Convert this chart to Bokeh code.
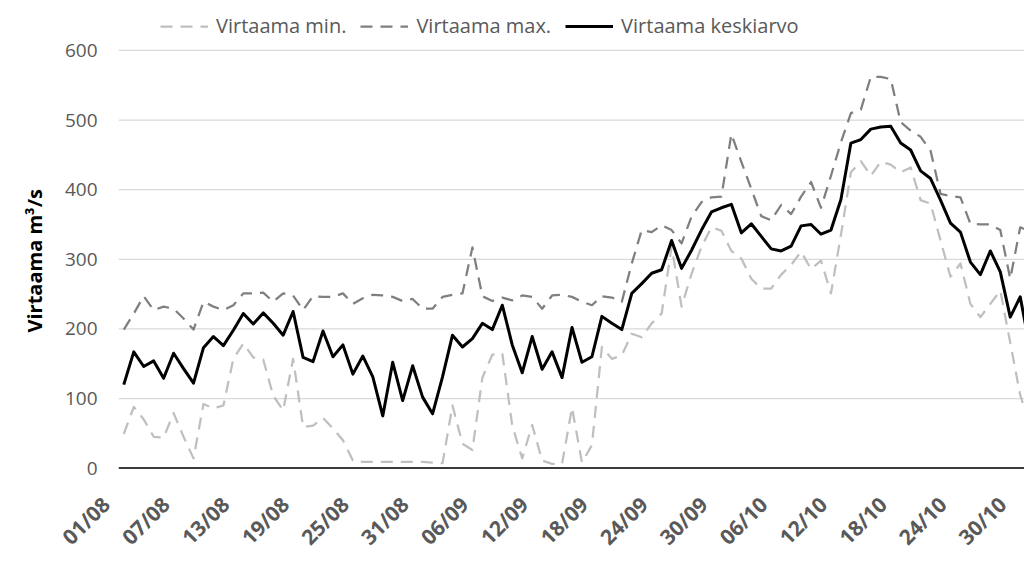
import math
import pandas as pd
from bokeh.plotting import figure
from bokeh.models import FixedTicker, Legend, LegendItem, Range1d, ColumnDataSource, Title
from bokeh.embed import file_html
from bokeh.resources import INLINE

# ---- data -------------------------------------------------------------
dates = list(pd.date_range("2019-08-01", periods=92, freq="D").strftime("%d/%m"))

tick_labels = ["01/08", "07/08", "13/08", "19/08", "25/08", "31/08", "06/09", "12/09",
               "18/09", "24/09", "30/09", "06/10", "12/10", "18/10", "24/10", "30/10"]

flow_mean = [120, 167, 146, 154, 129, 165, 143, 122, 173, 189, 176, 198, 222, 207, 223, 208,
             191, 225, 159, 153, 197, 160, 177, 135, 161, 131, 75, 152, 97, 147, 102, 78,
             131, 191, 174, 186, 208, 199, 234, 177, 137, 189, 142, 167, 130, 202, 152, 160,
             218, 208, 199, 251, 265, 280, 285, 327, 287, 313, 342, 368, 374, 379, 338, 351,
             333, 315, 312, 319, 348, 350, 336, 342, 386, 467, 472, 487, 490, 491, 467, 457,
             427, 416, 385, 352, 339, 296, 278, 312, 282, 217, 246, 170]

flow_max = [199, 222, 247, 227, 232, 229, 215, 199, 239, 232, 227, 234, 251, 251, 252, 239,
            251, 248, 227, 247, 246, 246, 251, 236, 244, 249, 248, 246, 240, 243, 229, 229,
            246, 249, 251, 317, 247, 240, 245, 241, 248, 246, 229, 248, 249, 246, 239, 234,
            247, 245, 239, 294, 342, 339, 349, 342, 323, 361, 382, 389, 390, 480, 440, 401,
            362, 356, 378, 365, 390, 411, 374, 420, 468, 510, 515, 562, 562, 559, 497, 485,
            476, 456, 394, 391, 389, 351, 350, 350, 342, 272, 346, 340]

flow_min = [49, 88, 70, 45, 44, 79, 45, 14, 92, 86, 90, 157, 179, 159, 156, 104,
            83, 157, 59, 61, 72, 57, 40, 11, 9, 9, 9, 9, 9, 9, 9, 8,
            7, 90, 35, 26, 130, 163, 165, 61, 14, 62, 11, 6, 6, 87, 8, 33,
            174, 157, 162, 193, 188, 208, 222, 318, 232, 279, 318, 346, 341, 312, 301, 272,
            258, 258, 278, 292, 311, 286, 298, 251, 335, 425, 441, 420, 440, 436, 425, 432,
            385, 380, 327, 275, 294, 236, 217, 236, 255, 180, 105, 60]

y_ticks = [0, 100, 200, 300, 400, 500, 600]

series_labels = ["Virtaama min.", "Virtaama max.", "Virtaama keskiarvo"]
y_title = "Virtaama m³/s"

# ---- styling ----------------------------------------------------------
FONT = "Open Sans"
TXT = "#595959"
LABEL_SHIFT = -1.8          # rotated labels end left of their category, as in Excel
X0, X1 = -1.837, 90.43      # visible index range (plot area starts at index -0.5)
Y0, Y1 = -2.0, 671.8        # room above 600 for the legend

idx = list(range(len(flow_mean)))
src = ColumnDataSource(dict(x=idx, mn=flow_min, mx=flow_max, mean=flow_mean))

p = figure(width=1024, height=563, output_backend="svg", toolbar_location=None,
           x_range=Range1d(X0, X1), y_range=Range1d(Y0, Y1),
           min_border_left=105, min_border_right=0, min_border_top=0, min_border_bottom=94)
p.outline_line_color = None
p.background_fill_color = "white"
p.border_fill_color = "white"
p.xgrid.grid_line_color = None
p.ygrid.grid_line_color = None

# gridlines and category axis line, starting at the plot-area edge (index -0.5)
grid_src = ColumnDataSource(dict(x0=[-0.5] * len(y_ticks), x1=[X1] * len(y_ticks),
                                 y=y_ticks))
p.segment(x0="x0", y0="y", x1="x1", y1="y", source=grid_src,
          line_color="#D9D9D9", line_width=1.25)
p.segment(x0=[-0.5], y0=[0], x1=[X1], y1=[0], line_color="black", line_width=1.5)

r_min = p.line("x", "mn", source=src, line_color="#BFBFBF", line_width=2.25,
               line_dash="12 8", line_join="round")
r_max = p.line("x", "mx", source=src, line_color="#7F7F7F", line_width=2.25,
               line_dash="12 8", line_join="round")
r_mean = p.line("x", "mean", source=src, line_color="black", line_width=3,
                line_join="round")

# x axis
tick_pos = [dates.index(t) + LABEL_SHIFT for t in tick_labels]
p.xaxis.ticker = FixedTicker(ticks=tick_pos)
p.xaxis.major_label_overrides = {tp: t for tp, t in zip(tick_pos, tick_labels)}
p.xaxis.major_label_orientation = math.pi / 4
p.xaxis.major_label_text_font = FONT
p.xaxis.major_label_text_font_style = "bold"
p.xaxis.major_label_text_font_size = "21px"
p.xaxis.major_label_text_color = TXT
p.xaxis.major_label_standoff = 31
p.xaxis.axis_line_color = None
p.xaxis.major_tick_line_color = None
p.xaxis.minor_tick_line_color = None
p.xaxis.major_tick_out = 0
p.xaxis.major_tick_in = 0
p.xaxis.minor_tick_out = 0

# y axis
p.yaxis.ticker = FixedTicker(ticks=y_ticks)
p.yaxis.major_label_text_font = FONT
p.yaxis.major_label_text_font_size = "19px"
p.yaxis.major_label_text_color = TXT
p.yaxis.major_label_standoff = 8
p.yaxis.axis_line_color = None
p.yaxis.major_tick_line_color = None
p.yaxis.minor_tick_line_color = None
p.yaxis.major_tick_out = 0
p.yaxis.major_tick_in = 0
p.yaxis.minor_tick_out = 0

ytitle = Title(text=y_title, align="left", offset=137, vertical_align="middle",
               standoff=26, text_font=FONT, text_font_style="bold",
               text_font_size="20px", text_color="#000000")
p.add_layout(ytitle, "left")

legend = Legend(items=[LegendItem(label=series_labels[0], renderers=[r_min]),
                       LegendItem(label=series_labels[1], renderers=[r_max]),
                       LegendItem(label=series_labels[2], renderers=[r_mean])],
                orientation="horizontal", location=(55, 430),
                border_line_color=None, background_fill_alpha=0,
                padding=0, margin=0, spacing=14, glyph_width=48, label_standoff=8,
                label_text_font=FONT, label_text_font_size="20px",
                label_text_color=TXT)
p.add_layout(legend)

open("out.html", "w").write(file_html(p, INLINE))
